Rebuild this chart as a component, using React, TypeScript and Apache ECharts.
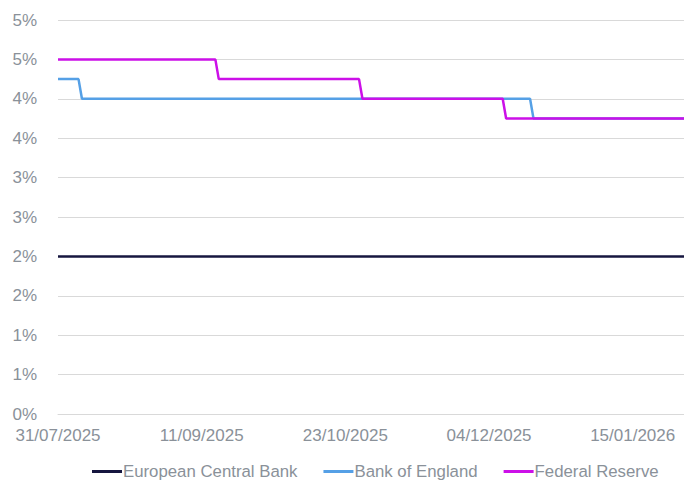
import React, { useEffect, useRef } from "react";
import * as echarts from "echarts";

const startDate = "2025-07-31";
const endDate = "2026-01-30";
const tickStepDays = 42;

const ecbDates = ["2025-07-31", "2026-01-30"];
const ecbRates = [2.0, 2.0];

const boeDates = ["2025-07-31", "2025-08-06", "2025-08-07", "2025-12-16", "2025-12-17", "2026-01-30"];
const boeRates = [4.25, 4.25, 4.0, 4.0, 3.75, 3.75];

const fedDates = ["2025-07-31", "2025-09-15", "2025-09-16", "2025-10-27", "2025-10-28", "2025-12-08", "2025-12-09", "2026-01-30"];
const fedRates = [4.5, 4.5, 4.25, 4.25, 4.0, 4.0, 3.75, 3.75];

const seriesNames = ["European Central Bank", "Bank of England", "Federal Reserve"];
const seriesColors = ["#16163f", "#55a0e6", "#cc10e8"];

const DAY = 86400000;
const toUtc = (s: string) => {
  const [y, m, d] = s.split("-").map(Number);
  return Date.UTC(y, m - 1, d);
};
const base = toUtc(startDate);
const dayOf = (s: string) => Math.round((toUtc(s) - base) / DAY);
const fmt = (day: number) => {
  const d = new Date(base + day * DAY);
  const dd = String(d.getUTCDate()).padStart(2, "0");
  const mm = String(d.getUTCMonth() + 1).padStart(2, "0");
  return `${dd}/${mm}/${d.getUTCFullYear()}`;
};
const pairs = (dates: string[], vals: number[]) => dates.map((d, i) => [dayOf(d), vals[i]]);

export default function App() {
  const ref = useRef<HTMLDivElement>(null);
  useEffect(() => {
    if (!ref.current) return;
    const chart = echarts.init(ref.current, undefined, { renderer: "svg" });
    const textColor = "#8a9199";
    const font = "Liberation Sans";
    chart.setOption({
      animation: false,
      backgroundColor: "#ffffff",
      grid: { left: 58, right: -2, top: 20, bottom: 68, containLabel: false },
      xAxis: {
        type: "value",
        min: 0,
        max: dayOf(endDate),
        interval: tickStepDays,
        axisLine: { show: true, lineStyle: { color: "#d9d9d9", width: 1 } },
        axisTick: { show: false },
        splitLine: { show: false },
        axisLabel: {
          color: textColor,
          fontFamily: font,
          fontSize: 17,
          margin: 13,
          showMaxLabel: false,
          formatter: (v: number) => fmt(v),
        },
      },
      yAxis: {
        type: "value",
        min: 0,
        max: 5,
        interval: 0.5,
        axisLine: { show: false },
        axisTick: { show: false },
        splitLine: { show: true, lineStyle: { color: "#d9d9d9", width: 1 } },
        axisLabel: {
          color: textColor,
          fontFamily: font,
          fontSize: 17,
          margin: 21,
          formatter: (v: number) => `${Math.round(v)}%`,
        },
      },
      legend: {
        left: 92,
        top: 463,
        padding: 0,
        icon: "rect",
        itemWidth: 30,
        itemHeight: 3,
        itemGap: 26,
        textStyle: { color: textColor, fontFamily: font, fontSize: 16.8, padding: [0, 0, 0, -4] },
        data: seriesNames,
      },
      series: [
        { name: seriesNames[0], data: pairs(ecbDates, ecbRates) },
        { name: seriesNames[1], data: pairs(boeDates, boeRates) },
        { name: seriesNames[2], data: pairs(fedDates, fedRates) },
      ].map((s, i) => ({
        ...s,
        type: "line",
        showSymbol: false,
        symbol: "none",
        color: seriesColors[i],
        lineStyle: { color: seriesColors[i], width: 2.5 },
      })),
    });
    return () => chart.dispose();
  }, []);
  return <div ref={ref} style={{ position: "fixed", left: 0, top: 0, width: 684, height: 482 }} />;
}
